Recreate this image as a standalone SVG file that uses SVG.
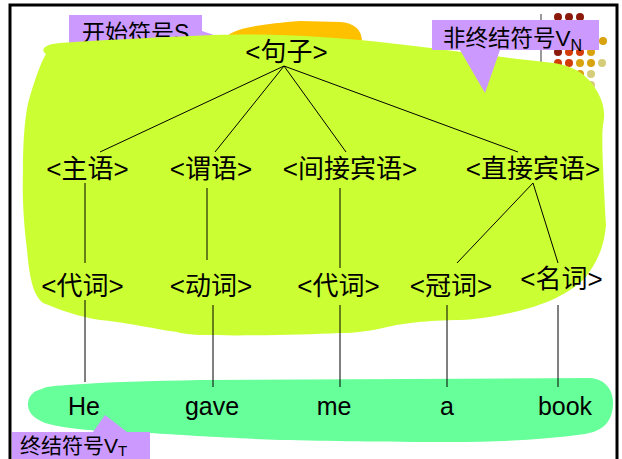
<svg xmlns="http://www.w3.org/2000/svg" width="622" height="459" viewBox="0 0 622 459">
<style>
.n{font-family:"Liberation Sans","Noto Sans CJK SC",sans-serif;font-size:26px;text-anchor:middle;fill:#000}
.w{font-family:"Liberation Sans",sans-serif;font-size:25px;text-anchor:middle;fill:#000}
.c{font-family:"Liberation Sans","Noto Sans CJK SC",sans-serif;fill:#000}
.e{stroke:#000;stroke-width:1;fill:none}
.co{fill:#CC99FF}
.dr{fill:#8B1A0A}.rd{fill:#D23C0A}.gd{fill:#D9A20F}.pl{fill:#D6CD7A}
</style>
<rect width="622" height="459" fill="#fff"/>
<g id="decor">
<line x1="541" y1="14" x2="541" y2="64" stroke="#999" stroke-width="2"/>
<circle class="dr" cx="558" cy="17" r="4"/><circle class="dr" cx="569" cy="17" r="4"/><circle class="dr" cx="580" cy="17" r="4"/>
<circle class="gd" cx="603" cy="41" r="4"/>
<circle class="dr" cx="558" cy="52" r="4"/><circle class="rd" cx="569" cy="52" r="4"/><circle class="rd" cx="580" cy="52" r="4"/><circle class="gd" cx="591" cy="52" r="4"/>
<circle class="rd" cx="558" cy="63" r="4"/><circle class="rd" cx="569" cy="63" r="4"/><circle class="gd" cx="580" cy="63" r="4"/><circle class="gd" cx="591" cy="63" r="4"/><circle class="pl" cx="602" cy="63" r="4"/>
<circle class="gd" cx="580" cy="74" r="4"/><circle class="pl" cx="591" cy="74" r="4"/>
<circle class="pl" cx="591" cy="85" r="4"/>
<path d="M225,40 C227,29 260,24 300,21 L340,22 C355,23 363,30 362,45 L226,46 Z" fill="#FFC000"/>
</g>
<g id="label-start">
<path class="co" d="M69,15 H202 V31 L214,35 L202,39 V50 H69 Z"/>
<text class="c" x="82" y="41" font-size="23">开始符号S</text>
</g>
<path id="nonterminal-region" d="M46,54 C40,50 44,44 60,43 C120,39 170,37 213,35 C280,33 330,37 380,42 C440,49 500,57 545,62 C570,64 585,72 595,88 C603,100 606,112 603,125 C601,140 604,185 606,225 C604,248 597,262 585,278 C565,298 535,308 505,314 C485,318 470,320 455,320 C420,321 400,324 387,327 C370,331 355,333 340,333 C300,335 240,336 200,335 C185,334 180,333 177,332 C160,330 130,323 100,320 C80,317 60,310 43,303 C35,296 30,285 27,250 C24,225 22,200 23,170 C23,140 25,112 30,96 C35,80 40,64 46,54 Z" fill="#CCFF33"/>
<g id="label-nonterminal">
<path class="co" d="M432,20 H599 V50 H500 L485,93 L460,50 H432 Z"/>
<text class="c" x="443" y="46" font-size="22.5">非终结符号V<tspan font-size="16" dy="5">N</tspan></text>
</g>
<path id="terminal-region" d="M28,405 C28,396 33,391 42,389 C45,387 50,386 67,385 C110,382 150,381 200,380 L590,378 C605,379 614,390 613,405 C612,422 603,431 585,434 C540,440 500,442 450,442 C380,442 330,441 280,440 C230,438 180,435 150,433 C110,432 70,430 45,423 C33,418 28,412 28,405 Z" fill="#66FF99"/>
<g id="connectors">
<line class="e" x1="284" y1="66" x2="100" y2="152"/>
<line class="e" x1="284" y1="66" x2="215" y2="152"/>
<line class="e" x1="284" y1="66" x2="346" y2="152"/>
<line class="e" x1="284" y1="66" x2="518" y2="152"/>
<line class="e" x1="85" y1="183" x2="85" y2="263"/>
<line class="e" x1="207" y1="188" x2="207" y2="260"/>
<line class="e" x1="340" y1="188" x2="340" y2="268"/>
<line class="e" x1="533" y1="183" x2="457" y2="263"/>
<line class="e" x1="533" y1="183" x2="558" y2="263"/>
<line class="e" x1="85" y1="300" x2="85" y2="382"/>
<line class="e" x1="213" y1="305" x2="213" y2="387"/>
<line class="e" x1="340" y1="305" x2="340" y2="387"/>
<line class="e" x1="447" y1="305" x2="447" y2="387"/>
<line class="e" x1="558" y1="305" x2="558" y2="387"/>
</g>
<g id="n-sentence"><text class="n" x="286.5" y="61">&lt;句子&gt;</text></g>
<g id="n-subject"><text class="n" x="87.5" y="178">&lt;主语&gt;</text></g>
<g id="n-predicate"><text class="n" x="211" y="178">&lt;谓语&gt;</text></g>
<g id="n-indirect"><text class="n" x="350" y="178">&lt;间接宾语&gt;</text></g>
<g id="n-direct"><text class="n" x="533" y="178">&lt;直接宾语&gt;</text></g>
<g id="n-pronoun1"><text class="n" x="82.5" y="295">&lt;代词&gt;</text></g>
<g id="n-verb"><text class="n" x="211" y="295">&lt;动词&gt;</text></g>
<g id="n-pronoun2"><text class="n" x="338.5" y="295">&lt;代词&gt;</text></g>
<g id="n-article"><text class="n" x="451" y="295">&lt;冠词&gt;</text></g>
<g id="n-noun"><text class="n" x="561.5" y="288">&lt;名词&gt;</text></g>
<g id="w-he"><text class="w" x="84" y="415">He</text></g>
<g id="w-gave"><text class="w" x="212" y="415">gave</text></g>
<g id="w-me"><text class="w" x="334" y="415">me</text></g>
<g id="w-a"><text class="w" x="447" y="415">a</text></g>
<g id="w-book"><text class="w" x="565" y="415">book</text></g>
<g id="label-terminal">
<path class="co" d="M12,432 H93 L105,415 L127,432 H150 V470 H12 Z"/>
<text class="c" x="20" y="453" font-size="21">终结符号V<tspan font-size="15" dy="3">T</tspan></text>
</g>
<rect x="10" y="5" width="607" height="500" fill="none" stroke="#000" stroke-width="3"/>
</svg>
